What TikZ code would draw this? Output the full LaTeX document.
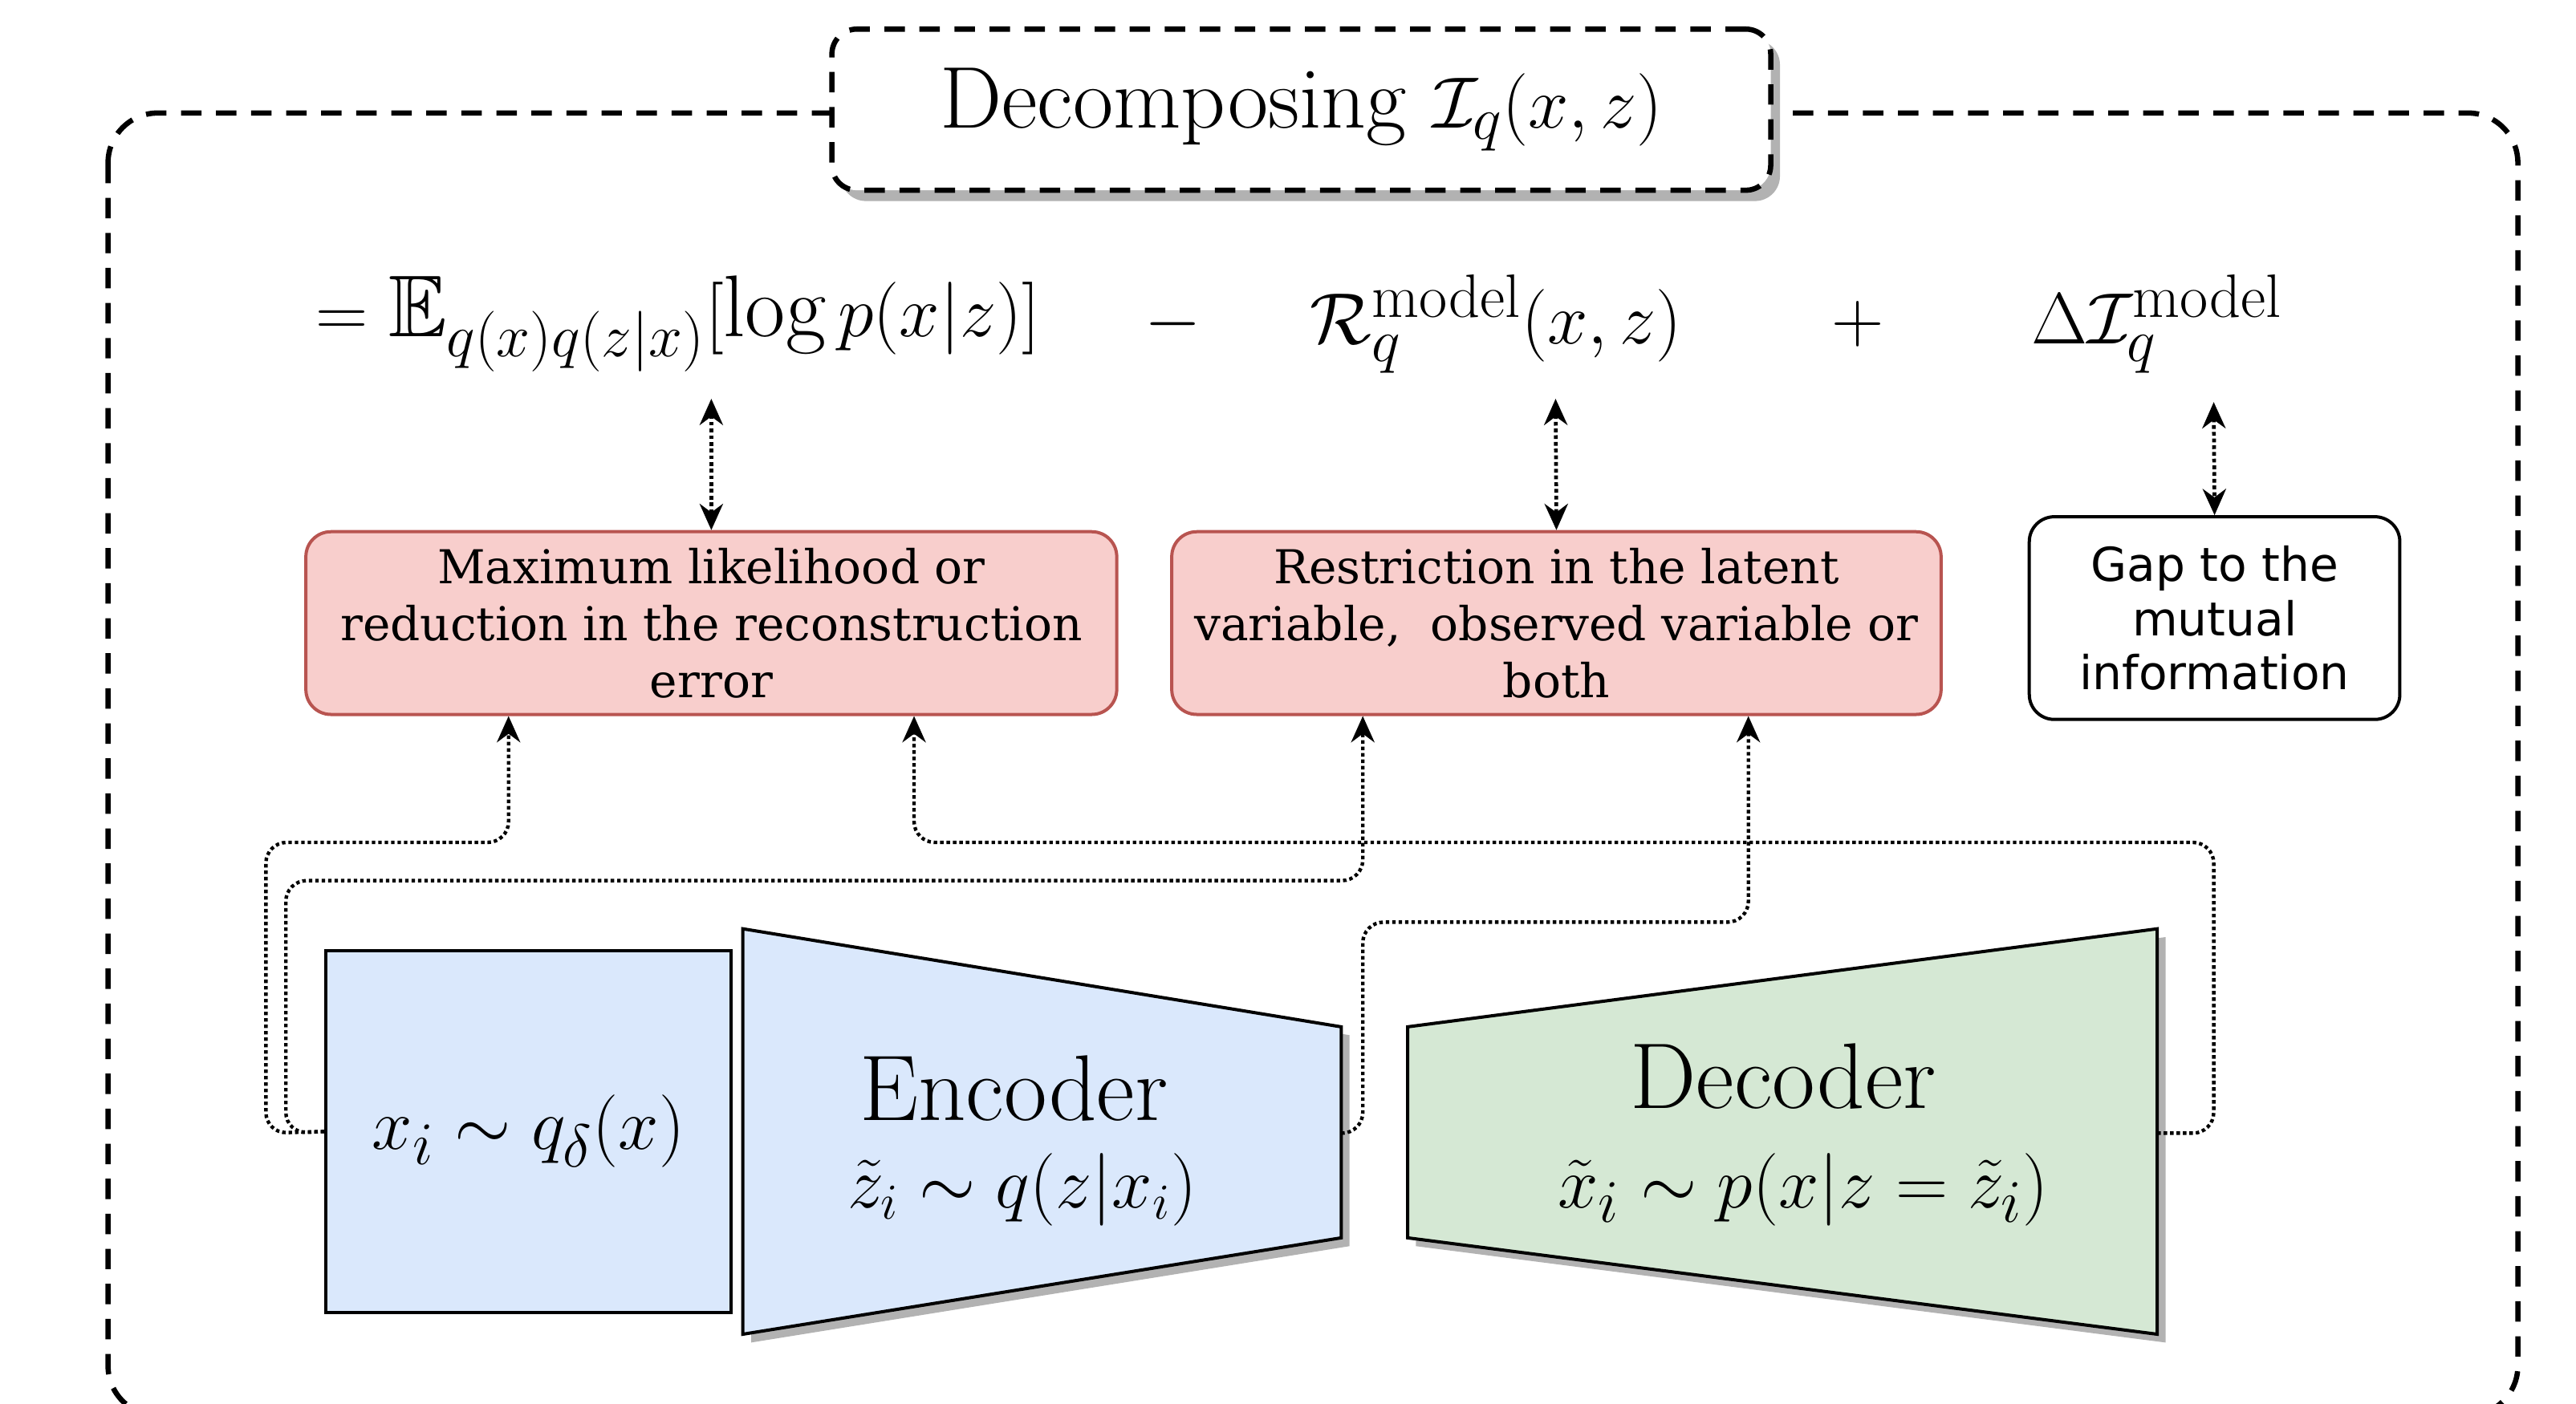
\documentclass[tikz,border=0pt]{standalone}
\usepackage{amssymb}
\usepackage{amsmath}
\usepackage{fontspec}
\newfontfamily\boxserif{DejaVu Serif}
\newfontfamily\boxsans{DejaVu Sans}
\usetikzlibrary{arrows.meta, positioning, calc}
\definecolor{encblue}{HTML}{DAE8FC}
\definecolor{decgreen}{HTML}{D5E8D4}
\definecolor{boxred}{HTML}{F8CECC}
\definecolor{boxredline}{HTML}{B85450}
\tikzstyle{frame} = [draw, line width=1.8pt, dash pattern=on 7pt off 5pt, rounded corners=0.6cm]
\tikzstyle{redbox} = [rectangle, draw=boxredline, fill=boxred, line width=1.1pt, rounded corners=0.3cm, align=center, minimum height=2.2cm, font=\boxserif\fontsize{16}{19.5}\selectfont]
\tikzstyle{whitebox} = [rectangle, draw, fill=white, line width=1.1pt, rounded corners=0.3cm, align=center, minimum width=4.46cm, minimum height=2.44cm, font=\boxsans\fontsize{16}{18.5}\selectfont]
\tikzstyle{link} = [draw, line width=1.3pt, densely dotted, {Stealth[length=9pt,width=8pt]}-{Stealth[length=9pt,width=8pt]}]
\tikzstyle{conn} = [draw, line width=1.2pt, densely dotted, rounded corners=0.25cm, -{Stealth[length=9pt,width=8pt]}]
\tikzstyle{big} = [font=\fontsize{30}{36}\selectfont]
\begin{document}
\begin{tikzpicture}[x=0.02cm,y=-0.02cm]
    \useasboundingbox (0,0) rectangle (1550,845);
    % Frame and title
    \draw [frame] (65,68) rectangle (1515,852);
    \fill [gray!60, rounded corners=0.3cm] (506,24) rectangle (1071,121);
    \node [draw, fill=white, line width=1.8pt, dash pattern=on 7pt off 5pt, rounded corners=0.3cm, minimum width=11.3cm, minimum height=1.94cm, font=\fontsize{30}{36}\selectfont] (title) at (783,66) {Decomposing $\mathcal{I}_q(x,z)$};
    % Equation
    \node [big] (rec) at (408,195) {$=\mathbb{E}_{q(x)q(z|x)}[\log p(x|z)]$};
    \node [big] (minus) at (706,195) {$-$};
    \node [big] (rate) at (900,195) {$\mathcal{R}_q^{\text{model}}(x,z)$};
    \node [big] (plus) at (1118,195) {$+$};
    \node [big] (gap) at (1298,195) {$\Delta\mathcal{I}_q^{\text{model}}$};
    % Boxes
    \node [redbox, minimum width=9.76cm] (ml) at (428,375) {Maximum likelihood or\\reduction in the reconstruction\\error};
    \node [redbox, minimum width=9.26cm] (restr) at (936.5,375) {Restriction in the latent\\variable,\ \ observed variable or\\both};
    \node [whitebox] (mi) at (1332.5,372) {Gap to the\\mutual\\information};
    % Input, encoder, decoder
    \node [draw, fill=encblue, line width=1.1pt, minimum width=4.88cm, minimum height=4.36cm, font=\fontsize{28}{34}\selectfont] (inp) at (318,681) {$x_i\sim q_\delta(x)$};
    \fill [gray!60] (452,564) -- (812,623) -- (812,750) -- (452,808) -- cycle;
    \draw [fill=encblue, line width=1.1pt] (447,559) -- (807,618) -- (807,745) -- (447,803) -- cycle;
    \node [font=\fontsize{32}{38}\selectfont] (enc) at (610,655) {Encoder};
    \node [font=\fontsize{27}{32}\selectfont] (encf) at (615,716) {$\tilde z_i\sim q(z|x_i)$};
    \fill [gray!60] (852,623) -- (1303,564) -- (1303,808) -- (852,750) -- cycle;
    \draw [fill=decgreen, line width=1.1pt] (847,618) -- (1298,559) -- (1298,803) -- (847,745) -- cycle;
    \node [font=\fontsize{32}{38}\selectfont] (dec) at (1073,648) {Decoder};
    \node [font=\fontsize{28}{34}\selectfont] (decf) at (1085,716) {$\tilde x_i\sim p(x|z=\tilde z_i)$};
    \coordinate (encr) at (807,682);
    \coordinate (decr) at (1298,682);
    % Links
    \path [link] (428,240) -- (ml.north);
    \path [link] (936,240) -- (restr.north);
    \path [link] (1332,242) -- (mi.north);
    \path [conn] (inp.west) -- (160,682) -- (160,507) -- (306,507) -- (ml.south -| 306,0);
    \path [conn] (inp.west) -- (172,682) -- (172,530) -- (820,530) -- (restr.south -| 820,0);
    \path [conn] (encr) -- (820,682) -- (820,555) -- (1052,555) -- (restr.south -| 1052,0);
    \path [conn] (decr) -- (1332,682) -- (1332,507) -- (550,507) -- (ml.south -| 550,0);
\end{tikzpicture}
\end{document}
